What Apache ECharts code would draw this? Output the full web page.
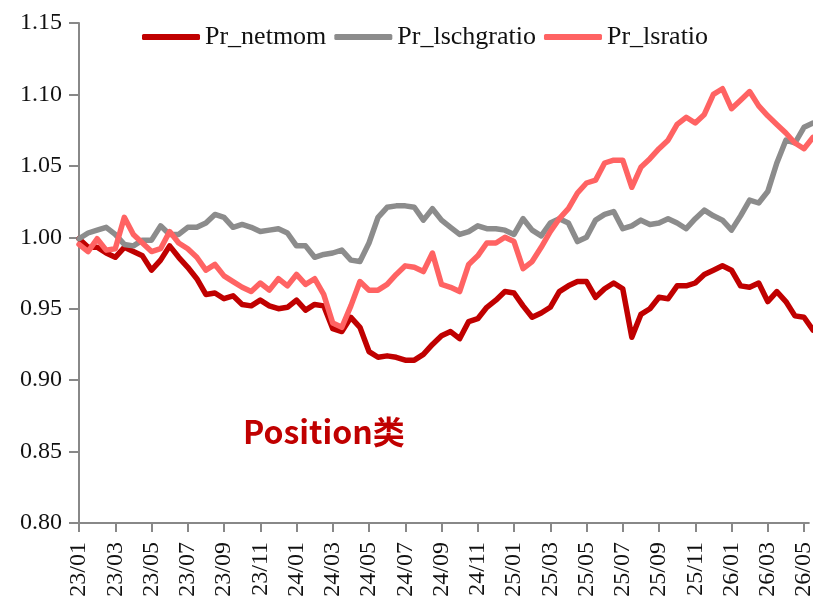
<!DOCTYPE html>
<html>
<head>
<meta charset="utf-8">
<script src="https://cdn.jsdelivr.net/npm/echarts@6/dist/echarts.min.js"></script>
<style>
  html, body { margin: 0; padding: 0; background: #fff; }
  #chart { width: 816px; height: 606px; }
</style>
</head>
<body>
<div id="chart"></div>
<script>
// 横轴刻度标签（每两个月一个）
const tickLabels = ['23/01', '23/03', '23/05', '23/07', '23/09', '23/11', '24/01', '24/03', '24/05', '24/07', '24/09',
  '24/11', '25/01', '25/03', '25/05', '25/07', '25/09', '25/11', '26/01', '26/03', '26/05']

// 三条序列，按半月取点（从 23/01 起）
const netmom = [0.999, 0.993, 0.993, 0.989, 0.986, 0.993, 0.990, 0.987, 0.977, 0.984,
  0.994, 0.986, 0.979, 0.971, 0.960, 0.961, 0.957, 0.959, 0.953, 0.952,
  0.956, 0.952, 0.950, 0.951, 0.956, 0.949, 0.953, 0.952, 0.936, 0.934,
  0.944, 0.937, 0.920, 0.916, 0.917, 0.916, 0.914, 0.914, 0.918, 0.925,
  0.931, 0.934, 0.929, 0.941, 0.943, 0.951, 0.956, 0.962, 0.961, 0.952,
  0.944, 0.947, 0.951, 0.962, 0.966, 0.969, 0.969, 0.958, 0.964, 0.968,
  0.964, 0.930, 0.946, 0.950, 0.958, 0.957, 0.966, 0.966, 0.968, 0.974,
  0.977, 0.980, 0.977, 0.966, 0.965, 0.968, 0.955, 0.962, 0.955, 0.945,
  0.944, 0.935]
const lschgratio = [0.999, 1.003, 1.005, 1.007, 1.002, 0.995, 0.994, 0.998, 0.998, 1.008,
  1.002, 1.002, 1.007, 1.007, 1.010, 1.016, 1.014, 1.007, 1.009, 1.007,
  1.004, 1.005, 1.006, 1.003, 0.994, 0.994, 0.986, 0.988, 0.989, 0.991,
  0.984, 0.983, 0.996, 1.014, 1.021, 1.022, 1.022, 1.021, 1.012, 1.020,
  1.012, 1.007, 1.002, 1.004, 1.008, 1.006, 1.006, 1.005, 1.002, 1.013,
  1.005, 1.001, 1.010, 1.013, 1.010, 0.997, 1.000, 1.012, 1.016, 1.018,
  1.006, 1.008, 1.012, 1.009, 1.010, 1.013, 1.010, 1.006, 1.013, 1.019,
  1.015, 1.012, 1.005, 1.015, 1.026, 1.024, 1.032, 1.052, 1.068, 1.066,
  1.077, 1.080]
const lsratio = [0.995, 0.990, 0.999, 0.991, 0.992, 1.014, 1.002, 0.996, 0.990, 0.992,
  1.004, 0.996, 0.992, 0.986, 0.977, 0.981, 0.973, 0.969, 0.965, 0.962,
  0.968, 0.963, 0.971, 0.966, 0.974, 0.967, 0.971, 0.960, 0.940, 0.937,
  0.952, 0.969, 0.963, 0.963, 0.967, 0.974, 0.980, 0.979, 0.976, 0.989,
  0.967, 0.965, 0.962, 0.981, 0.987, 0.996, 0.996, 1.000, 0.997, 0.978,
  0.983, 0.993, 1.004, 1.013, 1.020, 1.031, 1.038, 1.040, 1.052, 1.054,
  1.054, 1.035, 1.049, 1.055, 1.062, 1.068, 1.079, 1.084, 1.080, 1.086,
  1.100, 1.104, 1.090, 1.096, 1.102, 1.092, 1.085, 1.079, 1.073, 1.066,
  1.062, 1.070]

const chart = echarts.init(document.getElementById('chart'))

// 横轴用“距 23/01 的月数”表示
const toPairs = (arr) => arr.map((v, i) => [i * 0.5, v])
const tickValues = tickLabels.map((_, i) => i * 2)
const serif = 'Liberation Serif'
const axisGray = '#888888'

const makeLine = (name, data, color) => ({
  name: name,
  type: 'line',
  data: toPairs(data),
  symbol: 'none',
  lineStyle: { width: 5.5, color: color, cap: 'round', join: 'round' },
  itemStyle: { color: color }
})

const option = {
  animation: false,
  grid: { left: 79, top: 23, right: 0, bottom: 83, containLabel: false },
  legend: {
    left: 137,
    top: 19,
    icon: 'roundRect',
    itemWidth: 58,
    itemHeight: 6,
    itemGap: 8,
    textStyle: { fontFamily: serif, fontSize: 26, color: '#111' },
    data: ['Pr_netmom', 'Pr_lschgratio', 'Pr_lsratio']
  },
  xAxis: {
    type: 'value',
    min: 0,
    max: 40.27,
    splitLine: { show: false },
    axisLine: { show: true, lineStyle: { color: axisGray, width: 2 } },
    axisTick: { show: true, length: 9, customValues: tickValues, lineStyle: { color: axisGray, width: 2 } },
    axisLabel: {
      customValues: tickValues,
      rotate: 90,
      margin: 19,
      fontFamily: serif,
      fontSize: 24,
      color: '#111',
      formatter: (v) => tickLabels[Math.round(v / 2)] || ''
    }
  },
  yAxis: {
    type: 'value',
    min: 0.8,
    max: 1.15,
    interval: 0.05,
    splitLine: { show: false },
    axisLine: { show: true, lineStyle: { color: axisGray, width: 2 } },
    axisTick: { show: true, length: 10, lineStyle: { color: axisGray, width: 2 } },
    axisLabel: {
      margin: 17,
      fontFamily: serif,
      fontSize: 24,
      color: '#111',
      formatter: (v) => v.toFixed(2)
    }
  },
  graphic: [
    {
      type: 'text',
      left: 243,
      top: 416,
      style: {
        text: 'Position类',
        font: 'bold 32px "Noto Sans CJK SC", sans-serif',
        fill: '#C00000'
      }
    }
  ],
  series: [
    makeLine('Pr_netmom', netmom, '#C00000'),
    makeLine('Pr_lschgratio', lschgratio, '#8C8C8C'),
    makeLine('Pr_lsratio', lsratio, '#FF6363')
  ]
}

chart.setOption(option)
</script>
</body>
</html>
